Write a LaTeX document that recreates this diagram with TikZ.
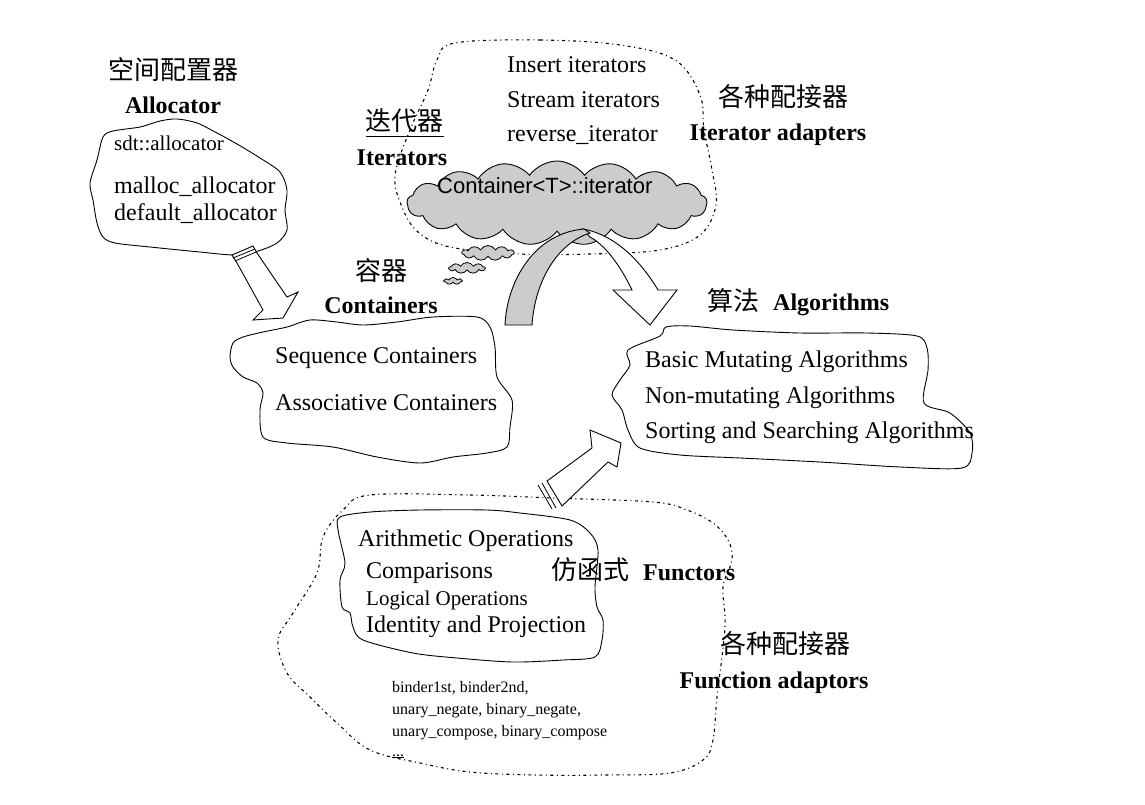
\documentclass[tikz,border=0pt]{standalone}
\usepackage{fontspec}
\setmainfont{Liberation Serif}
\newfontfamily\cjk{Noto Sans CJK SC}
\newfontfamily\arialf{Liberation Sans}
\usetikzlibrary{shapes.symbols}
\begin{document}
\begin{tikzpicture}[x=1pt,y=-1pt,
  blob/.style={draw, line width=0.9pt},
  dotblob/.style={draw, line width=1.1pt, dash pattern=on 3pt off 3.5pt on 1pt off 3.5pt},
  cn/.style={font=\cjk\fontsize{26}{26}\selectfont, inner sep=0pt},
  en/.style={font=\fontsize{24}{24}\selectfont, inner sep=0pt, anchor=base west},
  sm/.style={font=\fontsize{21}{21}\selectfont, inner sep=0pt, anchor=base west},
  tiny/.style={font=\fontsize{16}{16}\selectfont, inner sep=0pt, anchor=base west},
  bn/.style={font=\bfseries\fontsize{24}{24}\selectfont, inner sep=0pt, anchor=base},
  blockarrow/.style={draw, line width=0.9pt, fill=white, line join=miter},
  grayfill/.style={fill=black!20},
]
\useasboundingbox (0,0) rectangle (1145,804);

% ---------- Iterators group ----------
\draw[dotblob] plot[smooth cycle, tension=0.6] coordinates {
 (455,43) (540,40) (620,45) (675,60) (700,95) (704,130) (712,170) (716,205)
 (700,235) (660,250) (590,254) (520,254) (450,247) (418,232) (402,207)
 (395,175) (410,130) (428,90) (437,60)};
\node[cloud, cloud puffs=17, cloud puff arc=110, aspect=3.6, draw, line width=0.9pt,
      grayfill, minimum width=300pt, minimum height=84pt, inner sep=0pt] (itc) at (557,203) {};
\node[cloud, cloud puffs=11, cloud puff arc=120, aspect=3.5, draw, line width=0.8pt,
      grayfill, minimum width=52pt, minimum height=15pt, inner sep=0pt] (c1) at (488,253) {};
\node[cloud, cloud puffs=9, cloud puff arc=120, aspect=3.5, draw, line width=0.8pt,
      grayfill, minimum width=36pt, minimum height=11pt, inner sep=0pt] (c2) at (467,268) {};
\node[cloud, cloud puffs=7, cloud puff arc=120, aspect=3, draw, line width=0.8pt,
      grayfill, minimum width=18pt, minimum height=7pt, inner sep=0pt] (c3) at (453,281) {};
\node[font=\arialf\fontsize{22}{22}\selectfont, inner sep=0pt, anchor=base west] (itcl) at (437,193) {Container<T>::iterator};

\node[en] (ins) at (507,72) {Insert iterators};
\node[en] (str) at (507,107) {Stream iterators};
\node[en] (rev) at (507,141) {reverse\_iterator};
\node[cn] (iterzh) at (404,121) {迭代器};
\draw[line width=1pt] (366,136) -- (444,136);
\node[bn] (iter) at (402,165) {Iterators};
\node[cn] (adzh) at (783,97) {各种配接器};
\node[bn] (itad) at (778,140) {Iterator adapters};

% curved arrow from iterators to algorithms
\draw[blockarrow] (583,229) .. controls (615,235) and (640,260) .. (658,290)
   -- (677,290) -- (650,325) -- (613,290) -- (632,290)
   .. controls (620,265) and (605,245) .. (590,237) -- cycle;
\draw[blockarrow, grayfill] (505,325) .. controls (507,280) and (535,233) .. (584,229)
   -- (590,233) .. controls (558,243) and (535,280) .. (532,325) -- cycle;

% ---------- Allocator ----------
\node[cn] (alloczh) at (173,70) {空间配置器};
\node[bn] (alloc) at (173,113) {Allocator};
\draw[blob] plot[smooth cycle, tension=0.5] coordinates {
 (103,137) (113,131) (140,127) (160,121) (177,119) (197,123) (217,133) (237,144)
 (260,158) (280,172) (287,190) (285,210) (287,230) (277,243) (258,251) (235,255)
 (200,252) (150,247) (115,243) (103,237) (97,223) (93,200) (90,183) (97,160)};
\node[sm] (a1) at (114,150) {sdt::allocator};
\node[en] (a2) at (114,193) {malloc\_allocator};
\node[en] (a3) at (114,220) {default\_allocator};

% arrow allocator -> containers
\draw[blockarrow] (232,255) -- (237,263) -- (263,310) -- (253,320) -- (283,318)
  -- (298,292) -- (287,297) -- (257,253) -- (253,246) -- cycle;
\draw[line width=0.8pt] (233,258) -- (255,249) (235,261) -- (256,252);

% ---------- Containers ----------
\node[cn] (contzh) at (381,271) {容器};
\node[bn] (cont) at (381,313) {Containers};
\draw[blob] plot[smooth cycle, tension=0.5] coordinates {
 (233,343) (243,337) (263,332) (287,327) (310,320) (337,322) (363,325) (397,322)
 (433,317) (477,317) (490,327) (495,347) (497,377) (512,400) (510,427) (507,447)
 (487,453) (453,457) (420,463) (377,457) (333,447) (287,443) (263,437) (260,410)
 (263,393) (257,383) (243,377) (233,367) (230,357)};
\node[en] (seq) at (275,363) {Sequence Containers};
\node[en] (ass) at (275,410) {Associative Containers};

% ---------- Algorithms ----------
\node[cn] (algzh) at (733,301) {算法};
\node[bn, anchor=base west] (alg) at (773,310) {Algorithms};
\draw[blob] plot[smooth cycle, tension=0.5] coordinates {
 (660,336) (666,327) (690,326) (733,330) (800,333) (867,333) (917,336) (927,348)
 (928,370) (924,403) (950,413) (970,433) (972,453) (962,468) (900,467) (820,462)
 (740,458) (680,455) (640,448) (628,430) (622,410) (612,395) (620,380) (630,365)
 (628,350)};
\node[en] (g1) at (645,367) {Basic Mutating Algorithms};
\node[en] (g2) at (645,403) {Non-mutating Algorithms};
\node[en] (g3) at (645,438) {Sorting and Searching Algorithms};

% ---------- Functors ----------
\draw[dotblob] plot[smooth cycle, tension=0.6] coordinates {
 (370,495) (470,495) (553,498) (653,502) (687,510) (713,523) (728,540) (732,560)
 (723,587) (725,627) (717,697) (713,740) (703,760) (670,773) (603,775) (537,775)
 (470,772) (420,763) (370,750) (337,723) (310,697) (287,673) (278,640) (293,613)
 (317,573) (323,537) (343,510)};
\draw[blob] plot[smooth cycle, tension=0.5] coordinates {
 (340,517) (370,512) (420,510) (487,510) (520,513) (570,520) (590,533) (598,550)
 (595,587) (597,607) (603,620) (602,640) (595,657) (563,660) (513,662) (457,658)
 (413,653) (363,640) (353,627) (350,613) (342,607) (340,580) (345,563) (338,530)};
\node[en] (f1) at (358,546) {Arithmetic Operations};
\node[en] (f2) at (366,578) {Comparisons};
\node[sm] (f3) at (366,605) {Logical Operations};
\node[en] (f4) at (366,632) {Identity and Projection};
\node[cn] (funzh) at (590,570) {仿函式};
\node[bn, anchor=base west] (fun) at (643,580) {Functors};
\node[cn] (fadzh) at (785,644) {各种配接器};
\node[bn] (fad) at (774,688) {Function adaptors};
\node[tiny] (b1) at (392,692) {binder1st, binder2nd,};
\node[tiny] (b2) at (392,714) {unary\_negate, binary\_negate,};
\node[tiny] (b3) at (392,736) {unary\_compose, binary\_compose};
\node[tiny] (b4) at (392,756) {\underline{...}};

% arrow functors -> algorithms
\draw[blockarrow] (547,481) -- (592,448) -- (590,430) -- (621,443) -- (617,467)
  -- (608,462) -- (562,506) -- cycle;
\draw[line width=0.8pt] (538,485) -- (552,509) (542,483) -- (556,508);
\end{tikzpicture}
\end{document}
